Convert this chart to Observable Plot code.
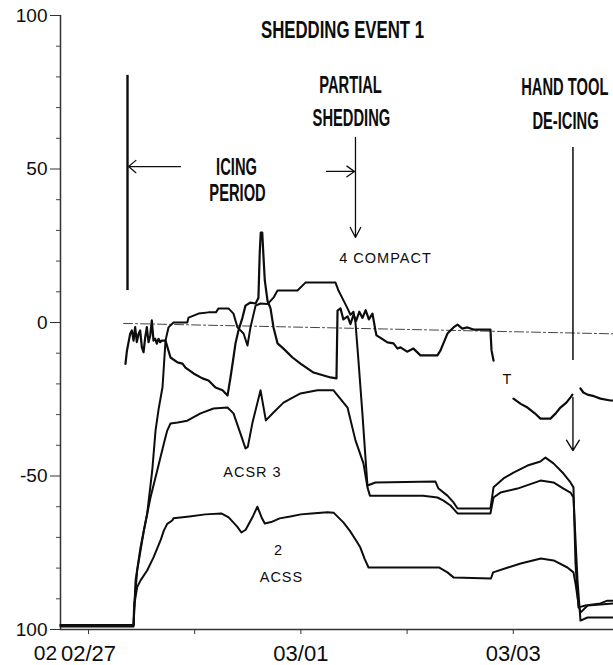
<!DOCTYPE html>
<html><head><meta charset="utf-8">
<script src="https://cdn.jsdelivr.net/npm/d3@7"></script>
<script src="https://cdn.jsdelivr.net/npm/@observablehq/plot@0.6"></script>
<style>
body{margin:0;background:#fff}
</style></head><body>
<script>
// ---- axes ----
const xDomain = [-0.264, 4.944];           // days since 02/27 00:00
const xTicks = [0, 1, 2, 3, 4];
const xTickLabels = ["02/27", "", "03/01", "", "03/03"];
const xLeftLabel = ["02"];
const yTicks = [100, 50, 0, -50, -100];
const yTickLabels = ["100", "50", "0", "-50", "100"];
const yMinorTicks = [90, 80, 70, 60, 40, 30, 20, 10, -10, -20, -30, -40, -60, -70, -80, -90];

// ---- series [day, value] ----
const acss = [[-0.264,-99.0],[0.424,-99.0],[0.433,-91.5],[0.458,-86.2],[0.490,-84.0],[0.552,-80.8],[0.612,-76.5],[0.678,-71.0],[0.709,-67.8],[0.741,-65.6],[0.788,-64.5],[0.80,-63.8],[0.95,-63.2],[1.10,-62.5],[1.25,-62.2],[1.32,-63.5],[1.40,-66.5],[1.44,-68.4],[1.48,-67.5],[1.55,-63.0],[1.59,-60.0],[1.63,-63.5],[1.66,-65.5],[1.72,-65.0],[1.80,-63.8],[1.90,-63.2],[2.00,-62.5],[2.10,-62.2],[2.25,-61.8],[2.31,-62.0],[2.40,-65.1],[2.46,-67.8],[2.52,-71.0],[2.56,-73.3],[2.60,-77.0],[2.637,-79.8],[3.30,-79.8],[3.38,-81.4],[3.44,-83.1],[3.79,-83.4],[3.81,-81.4],[3.95,-79.8],[4.07,-78.5],[4.26,-76.9],[4.38,-77.5],[4.51,-79.8],[4.567,-81.4],[4.586,-85.0],[4.614,-91.5],[4.633,-94.5],[4.70,-92.2],[4.944,-91.5]];
const acsr = [[-0.264,-98.5],[0.424,-98.5],[0.427,-93.8],[0.458,-80.8],[0.521,-67.8],[0.584,-56.9],[0.647,-48.2],[0.709,-39.5],[0.741,-35.2],[0.772,-32.9],[0.84,-32.6],[0.93,-32.0],[1.055,-29.6],[1.177,-28.0],[1.309,-27.7],[1.365,-29.6],[1.431,-36.2],[1.478,-41.0],[1.50,-40.5],[1.544,-32.6],[1.62,-22.1],[1.67,-31.9],[1.742,-29.3],[1.836,-26.1],[1.996,-23.1],[2.156,-22.1],[2.307,-22.1],[2.439,-27.7],[2.514,-38.4],[2.589,-45.9],[2.627,-53.7],[2.65,-56.4],[3.15,-56.4],[3.286,-57.0],[3.343,-58.0],[3.409,-59.6],[3.475,-62.2],[3.785,-62.2],[3.814,-57.0],[3.879,-55.4],[4.04,-54.1],[4.256,-51.5],[4.379,-52.1],[4.473,-54.1],[4.539,-55.4],[4.567,-57.0],[4.605,-84.0],[4.633,-97.1],[4.699,-96.1],[4.944,-96.1]];
const compact = [[-0.264,-98.5],[0.424,-98.5],[0.443,-84.0],[0.490,-73.2],[0.552,-62.3],[0.600,-48.2],[0.631,-35.2],[0.661,-28.0],[0.697,-21.0],[0.725,-5.9],[0.753,-1.6],[0.80,0.0],[0.93,0.0],[0.942,1.6],[1.036,2.9],[1.13,3.3],[1.20,3.3],[1.224,4.6],[1.318,4.6],[1.365,2.9],[1.403,-1.6],[1.46,-3.6],[1.497,-7.5],[1.525,-1.6],[1.573,5.5],[1.62,6.2],[1.686,6.0],[1.742,8.1],[1.78,10.4],[1.968,10.4],[2.043,13.0],[2.326,13.0],[2.354,10.4],[2.401,7.2],[2.439,4.6],[2.467,2.5],[2.495,3.5],[2.514,0.0],[2.542,-12.4],[2.58,-30.0],[2.61,-45.0],[2.627,-53.1],[2.702,-52.1],[3.267,-51.8],[3.296,-54.1],[3.380,-56.4],[3.437,-58.6],[3.475,-60.6],[3.785,-60.6],[3.814,-53.7],[3.908,-50.8],[4.002,-48.9],[4.134,-46.6],[4.256,-45.3],[4.303,-44.0],[4.379,-45.9],[4.473,-49.2],[4.539,-52.1],[4.567,-53.7],[4.586,-78.5],[4.614,-92.8],[4.680,-92.2],[4.821,-91.5],[4.887,-90.6],[4.944,-90.6]];
const tempT = [[0.348,-13.5],[0.362,-9.1],[0.392,-3.7],[0.408,-2.6],[0.424,-5.9],[0.439,-1.5],[0.455,-6.4],[0.471,-3.7],[0.486,-2.6],[0.502,-8.0],[0.518,-9.7],[0.534,-4.8],[0.549,-1.5],[0.565,-6.4],[0.581,-4.2],[0.596,0.7],[0.612,-5.9],[0.628,-5.3],[0.643,-6.9],[0.659,-5.3],[0.675,-6.4],[0.69,-5.9],[0.725,-5.9],[0.772,-11.4],[0.838,-13.0],[0.885,-13.4],[0.913,-14.7],[0.989,-16.6],[1.073,-18.2],[1.13,-18.9],[1.196,-21.2],[1.262,-22.1],[1.309,-23.8],[1.337,-17.9],[1.365,-11.4],[1.384,-6.8],[1.412,-2.6],[1.45,1.6],[1.478,5.5],[1.525,6.5],[1.573,6.2],[1.60,8.0],[1.612,22.5],[1.622,29.3],[1.636,29.3],[1.646,22.5],[1.66,13.7],[1.686,7.0],[1.714,4.6],[1.742,-1.6],[1.78,-6.8],[1.836,-8.5],[1.921,-11.4],[1.996,-13.4],[2.119,-16.3],[2.279,-17.9],[2.335,-18.2],[2.345,3.9],[2.373,4.6],[2.40,1.0],[2.44,2.0],[2.467,-0.5],[2.495,2.5],[2.52,0.5],[2.55,3.5],[2.58,1.5],[2.61,4.0],[2.64,1.0],[2.674,2.9],[2.702,-2.6],[2.712,-4.2],[2.75,-5.0],[2.815,-6.5],[2.872,-6.8],[2.910,-8.5],[2.938,-8.1],[3.0,-9.5],[3.060,-8.5],[3.126,-10.7],[3.286,-10.7],[3.315,-9.1],[3.380,-3.6],[3.437,-1.6],[3.475,-0.7],[3.52,-2.0],[3.569,-1.6],[3.625,-2.3],[3.785,-2.3],[3.795,-9.0],[3.814,-12.4],
  [3.9,NaN],[4.002,-24.8],[4.07,-26.5],[4.134,-27.7],[4.2,-29.5],[4.256,-31.3],[4.350,-31.3],[4.40,-29.6],[4.444,-27.7],[4.50,-26.1],[4.539,-24.4],[4.557,-23.5],
  [4.6,NaN],[4.633,-21.5],[4.66,-22.8],[4.699,-23.5],[4.76,-24.0],[4.821,-24.8],[4.915,-25.4],[4.944,-25.4]];
const refLine = [[0.33,-0.3],[4.944,-3.7]];

// ---- annotations ----
const icingBar = [{x:0.367, y1:80.5, y2:10.4}];
const icingArrow = [{x1:0.866, y1:50.8, x2:0.377, y2:50.8}];
const shedArrowH = [{x1:2.241, y1:49.2, x2:2.505, y2:49.2}];
const shedArrowV = [{x1:2.514, y1:60.3, x2:2.514, y2:27.7}];
const handBar = [{x:4.562, y1:57.0, y2:-12.4}];
const handArrow = [{x1:4.562, y1:-24.4, x2:4.562, y2:-41.7}];
const titleText = [{text:"SHEDDING EVENT 1", x:2.392, y:95.1}];
const noteTexts = [
  {text:"ICING", x:1.394, y:50.5}, {text:"PERIOD", x:1.403, y:42.0},
  {text:"PARTIAL", x:2.467, y:77.2}, {text:"SHEDDING", x:2.476, y:66.4},
  {text:"HAND TOOL", x:4.485, y:76.5}, {text:"DE-ICING", x:4.492, y:65.5}
];
const curveTexts = [
  {text:"4 COMPACT", x:2.797, y:20.8}, {text:"ACSR 3", x:1.544, y:-48.9},
  {text:"2", x:1.789, y:-74.3}, {text:"ACSS", x:1.817, y:-83.1}, {text:"T", x:3.945, y:-18.6}
];

const xLabelOf = new Map(xTicks.map((d, i) => [d, xTickLabels[i]]));
const yLabelOf = new Map(yTicks.map((d, i) => [d, yTickLabels[i]]));
const xy = {x: d => d[0], y: d => d[1]};
const ink = "#0d0d0d";
const lineStyle = {stroke: ink, strokeWidth: 2, strokeLinejoin: "round"};
const sans = "'Liberation Sans', Arial, Helvetica, sans-serif";

const chart = Plot.plot({
  width: 613, height: 665,
  marginLeft: 60, marginRight: 0, marginTop: 15, marginBottom: 36,
  style: {fontFamily: sans, background: "#fff", color: ink},
  x: {domain: xDomain, axis: null},
  y: {domain: [-100, 100], axis: null},
  marks: [
    Plot.ruleX([xDomain[0]], {y1: -100, y2: 100, stroke: "#333", strokeWidth: 1.5}),
    Plot.ruleY([-100], {stroke: "#333", strokeWidth: 1.5}),
    Plot.axisY({ticks: yTicks, tickSize: 10, tickPadding: 3, tickFormat: d => yLabelOf.get(d), fontSize: 19, stroke: "#333"}),
    Plot.axisY({ticks: yMinorTicks, tickSize: 4, tickFormat: () => "", stroke: "#444"}),
    Plot.axisX({ticks: xTicks, tickSize: 5, tickPadding: 11, tickFormat: d => xLabelOf.get(d), fontSize: 22, stroke: "#333"}),
    Plot.text(xLeftLabel, {x: xDomain[0], y: -100, dx: -15, dy: 24, fontSize: 21, fill: ink}),
    Plot.line(refLine, {...xy, stroke: "#444", strokeWidth: 1, strokeDasharray: "9,3,2,3"}),
    Plot.line(acss, {...xy, ...lineStyle}),
    Plot.line(acsr, {...xy, ...lineStyle}),
    Plot.line(compact, {...xy, ...lineStyle}),
    Plot.line(tempT, {...xy, ...lineStyle, strokeWidth: 2.2}),
    Plot.ruleX(icingBar, {x: "x", y1: "y1", y2: "y2", stroke: ink, strokeWidth: 2.4}),
    Plot.arrow(icingArrow, {x1: "x1", y1: "y1", x2: "x2", y2: "y2", stroke: ink, strokeWidth: 1.2, headLength: 12, headAngle: 80}),
    Plot.arrow(shedArrowH, {x1: "x1", y1: "y1", x2: "x2", y2: "y2", stroke: ink, strokeWidth: 1.3, headLength: 12, headAngle: 70}),
    Plot.arrow(shedArrowV, {x1: "x1", y1: "y1", x2: "x2", y2: "y2", stroke: ink, strokeWidth: 1.3, headLength: 13, headAngle: 55}),
    Plot.ruleX(handBar, {x: "x", y1: "y1", y2: "y2", stroke: ink, strokeWidth: 1.5}),
    Plot.arrow(handArrow, {x1: "x1", y1: "y1", x2: "x2", y2: "y2", stroke: ink, strokeWidth: 1.4, headLength: 13, headAngle: 64}),
    Plot.text(titleText, {x: "x", y: "y", text: "text", fontSize: 23, fontWeight: "bold", fill: ink}),
    Plot.text(noteTexts, {x: "x", y: "y", text: "text", fontSize: 23, fontWeight: "bold", fill: ink}),
    Plot.text(curveTexts, {x: "x", y: "y", text: "text", fontSize: 14.5, fill: ink})
  ]
});
document.body.append(chart);
// narrow (condensed) lettering of the hand-written annotations:
// each label is scaled horizontally about its own centre
const condensed = new Map([
  ...noteTexts.map(d => [d.text, 0.64]),
  ...titleText.map(d => [d.text, 0.73])
]);
const spaced = new Set(curveTexts.map(d => d.text));
const svgNS = "http://www.w3.org/2000/svg";
chart.querySelectorAll("text").forEach(t => {
  const s = t.textContent;
  if (condensed.has(s)) {
    const g = document.createElementNS(svgNS, "g");
    t.parentNode.insertBefore(g, t);
    g.appendChild(t);
    g.style.transformBox = "fill-box";
    g.style.transformOrigin = "center";
    g.style.transform = `scaleX(${condensed.get(s)})`;
  } else if (spaced.has(s)) {
    t.style.letterSpacing = "1px";
  }
});
</script></body></html>
